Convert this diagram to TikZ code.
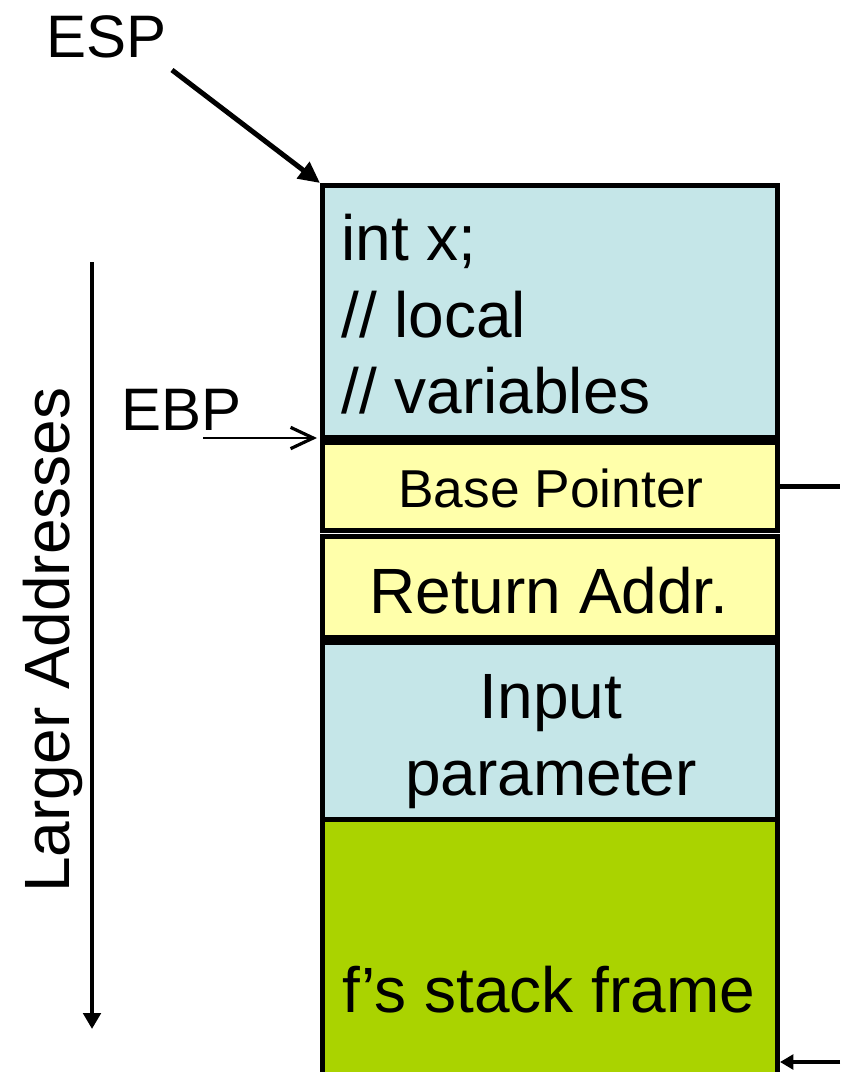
\documentclass[tikz,border=0pt]{standalone}
\usepackage{fontspec}
\setmainfont{Liberation Sans}
\usetikzlibrary{arrows.meta}
\newdimen\px \px=0.75pt
\definecolor{cellblue}{RGB}{197,230,232}
\definecolor{cellyellow}{RGB}{255,255,170}
\definecolor{cellgreen}{RGB}{170,211,0}
\tikzset{
  cell/.style={draw=black, line width=3.75pt, inner sep=0pt, minimum width=455\px},
  big/.style={inner sep=0pt, font=\fontsize{48}{58}\selectfont},
  mid/.style={inner sep=0pt, font=\fontsize{45}{54}\selectfont},
  small/.style={inner sep=0pt, font=\fontsize{40}{48}\selectfont},
}
\begin{document}
\begin{tikzpicture}[x=0.75pt,y=-0.75pt]
\clip (0,0) rectangle (840,1072);
\fill[white] (0,0) rectangle (840,1072);

% stack cells, top to bottom
\node[cell, fill=cellblue,   minimum height=252\px] (locals) at (550,311.5) {};
\node[cell, fill=cellyellow, minimum height=87.5\px] (bp) at (550,486.25) {};
\node[cell, fill=cellyellow, minimum height=101\px] (ret) at (550,587) {};
\node[cell, fill=cellblue,   minimum height=177\px] (param) at (550,731) {};
\node[cell, fill=cellgreen,  minimum height=290\px] (frame) at (550,964.5) {};

% cell texts
\node[big, anchor=base west] (l1) at (341,260) {int x;};
\node[big, anchor=base west] (l2) at (341,337) {// local};
\node[big, anchor=base west] (l3) at (341,413) {// variables};
\node[small, anchor=base] (bptext) at (551,507) {Base Pointer};
\node[big, anchor=base] (rettext) at (549,613) {Return Addr.};
\node[big, anchor=base] (in1) at (551,718) {Input};
\node[big, anchor=base] (in2) at (551,795) {parameter};
\node[big, anchor=base] (ftext) at (549,1012) {f’s stack frame};

% pointer labels
\node[mid, anchor=base west] (esp) at (46,57) {ESP};
\node[mid, anchor=base west] (ebp) at (121,430) {EBP};
\node[big, anchor=base, rotate=90] (larger) at (69,640) {Larger Addresses};

% pointer arrows
\coordinate (espfrom) at (172,70);
\draw[line width=3.75pt, -{Triangle[length=16pt,width=15pt]}] (espfrom) -- (locals.north west);

\coordinate (ebpfrom) at (203,438);
\coordinate (ebpto) at (317,438);
\draw[line width=1.8pt, -{Straight Barb[length=17pt,width=16pt,line width=2.4pt]}] (ebpfrom) -- (ebpto);

% address direction
\coordinate (dirtop) at (92,262);
\coordinate (dirbot) at (92,1029);
\draw[line width=3pt, -{Triangle[length=12pt,width=13pt]}] (dirtop) -- (dirbot);

% saved base pointer link
\coordinate (bpout) at (840,486.25);
\draw[line width=3.4pt] (bp.east) -- (bpout);
\coordinate (framein) at (840,1062);
\draw[line width=3pt, -{Triangle[length=10pt,width=11pt]}] (framein) -- (framein -| frame.east);
\end{tikzpicture}
\end{document}
